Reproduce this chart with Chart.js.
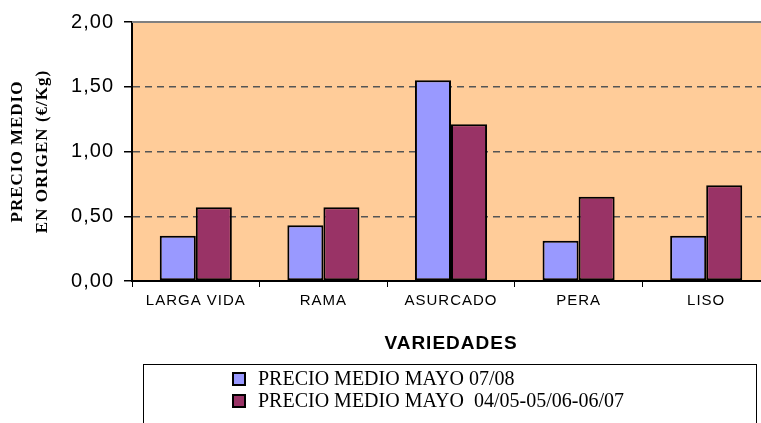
<!DOCTYPE html>
<html>
<head>
<meta charset="utf-8">
<script src="https://cdn.jsdelivr.net/npm/chart.js@4/dist/chart.umd.min.js"></script>
<style>
  html, body { margin: 0; padding: 0; background: #ffffff; overflow: hidden; }
  #wrap { width: 761px; height: 423px; position: relative; overflow: hidden; }
</style>
</head>
<body>
<div id="wrap"><canvas id="c" width="770" height="423"></canvas></div>
<script>
const categories = ['LARGA VIDA', 'RAMA', 'ASURCADO', 'PERA', 'LISO'];
const seriesNames = ['PRECIO MEDIO MAYO 07/08', 'PRECIO MEDIO MAYO  04/05-05/06-06/07'];
const precioMayo0708 = [0.35, 0.43, 1.55, 0.31, 0.35];
const precioMayoPrev = [0.57, 0.57, 1.21, 0.65, 0.74];
const yTicks = [0, 0.5, 1, 1.5, 2];
const xTitle = 'VARIEDADES';
const yTitle = ['PRECIO MEDIO', 'EN ORIGEN (€/Kg)'];

const colors = ['#9999FF', '#993366'];

const bgPlugin = {
  id: 'bg',
  beforeDraw(chart) {
    const {ctx, chartArea: a} = chart;
    ctx.save();
    ctx.fillStyle = '#FFCC99';
    ctx.fillRect(a.left, a.top, a.right - a.left, a.bottom - a.top);
    ctx.restore();
    ctx.letterSpacing = '1px';
  },
  afterDraw(chart) {
    const {ctx, chartArea: a} = chart;
    ctx.letterSpacing = '0px';
    // top border of plot area
    ctx.save();
    ctx.strokeStyle = '#808080';
    ctx.lineWidth = 2;
    ctx.beginPath();
    ctx.moveTo(a.left, a.top);
    ctx.lineTo(a.right, a.top);
    ctx.stroke();
    ctx.restore();
    // legend box
    ctx.save();
    ctx.strokeStyle = '#000000';
    ctx.lineWidth = 1;
    ctx.strokeRect(143.5, 364.5, 613, 80);
    ctx.font = '20px "Liberation Serif", "Times New Roman", serif';
    ctx.textBaseline = 'middle';
    chart.data.datasets.forEach((ds, i) => {
      const cy = 379 + i * 22;
      ctx.fillStyle = ds.backgroundColor;
      ctx.fillRect(233, cy - 6, 12, 12);
      ctx.lineWidth = 2;
      ctx.strokeStyle = '#000';
      ctx.strokeRect(233, cy - 6, 12, 12);
      ctx.fillStyle = '#000';
      ctx.fillText(ds.label, 258, cy + 1);
    });
    ctx.restore();
  }
};

new Chart(document.getElementById('c'), {
  type: 'bar',
  data: {
    labels: categories,
    datasets: [
      { label: seriesNames[0], data: precioMayo0708, backgroundColor: colors[0], borderColor: '#000', borderWidth: 2, borderSkipped: false },
      { label: seriesNames[1], data: precioMayoPrev, backgroundColor: colors[1], borderColor: '#000', borderWidth: 2, borderSkipped: false }
    ]
  },
  options: {
    responsive: false,
    animation: false,
    devicePixelRatio: 1,
    layout: { padding: { top: 20, right: 0, bottom: 68, left: 0 } },
    datasets: { bar: { categoryPercentage: 0.565, barPercentage: 1.0 } },
    plugins: {
      legend: { display: false },
      tooltip: { enabled: false }
    },
    scales: {
      x: {
        grid: { display: true, offset: true, drawOnChartArea: false, drawTicks: true, tickLength: 6, color: '#000', tickColor: '#000' },
        border: { display: true, color: '#000', width: 2 },
        ticks: { color: '#000', font: { family: '"Liberation Sans", Arial, sans-serif', size: 15 }, padding: 5, maxRotation: 0 },
        title: { display: true, text: xTitle, color: '#000', font: { family: '"Liberation Sans", Arial, sans-serif', size: 19, weight: 'bold' }, padding: { top: 10, bottom: 0 } },
        afterFit(scale) { scale.height = 74; }
      },
      y: {
        min: 0, max: 2,
        afterBuildTicks(scale) { scale.ticks = yTicks.map(v => ({ value: v })); },
        grid: {
          color: (ctx) => (ctx.tick && (ctx.tick.value === 0 || ctx.tick.value === 2)) ? 'rgba(0,0,0,0)' : '#555555',
          lineWidth: 1.5,
          tickColor: '#000',
          tickLength: 8,
          tickBorderDash: []
        },
        border: { display: true, color: '#000', width: 2, dash: [7, 5] },
        ticks: {
          color: '#000',
          font: { family: '"Liberation Sans", Arial, sans-serif', size: 20 },
          padding: 10,
          callback: (v) => Number(v).toFixed(2).replace('.', ',')
        },
        title: {
          display: true, text: yTitle, color: '#000',
          font: { family: '"Liberation Serif", "Times New Roman", serif', size: 17, weight: 'bold', lineHeight: 25 / 17 },
          padding: { top: 5.5, bottom: 0 }
        },
        afterFit(scale) { scale.width = 132; }
      }
    }
  },
  plugins: [bgPlugin]
});
</script>
</body>
</html>
